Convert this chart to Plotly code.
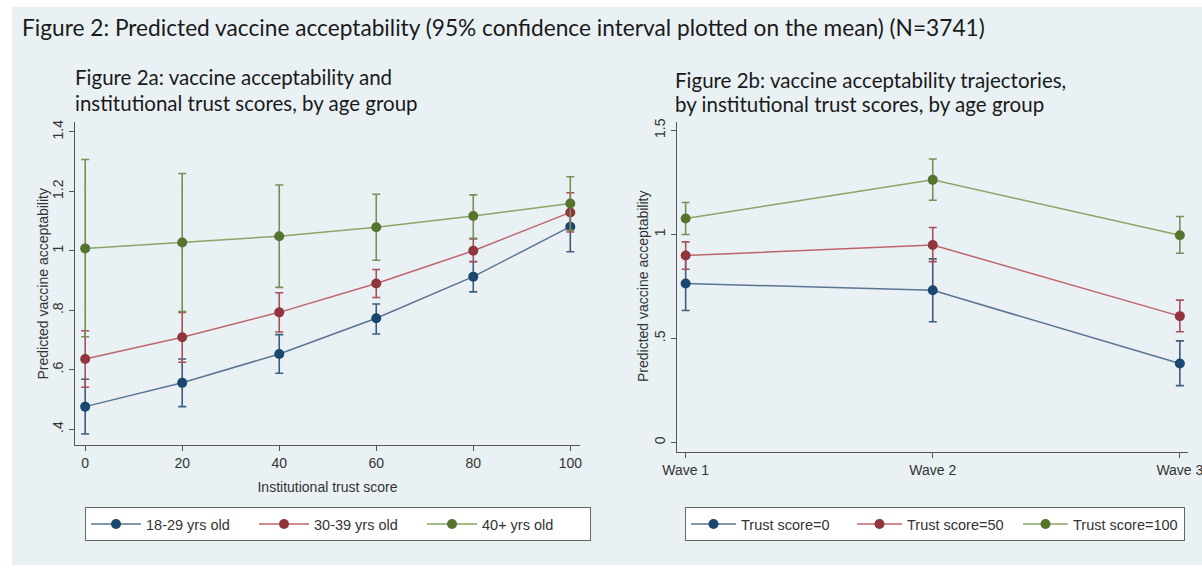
import plotly.graph_objects as go

# ---------------- data ----------------
trust_scores = [0, 20, 40, 60, 80, 100]

age_labels = ["18-29 yrs old", "30-39 yrs old", "40+ yrs old"]
age_mean = [
    [0.476, 0.556, 0.653, 0.773, 0.913, 1.081],
    [0.636, 0.709, 0.793, 0.890, 1.000, 1.129],
    [1.008, 1.028, 1.049, 1.079, 1.117, 1.159],
]
age_lower = [
    [0.384, 0.476, 0.588, 0.720, 0.862, 0.997],
    [0.541, 0.625, 0.727, 0.843, 0.963, 1.063],
    [0.711, 0.796, 0.877, 0.968, 1.042, 1.069],
]
age_upper = [
    [0.568, 0.636, 0.718, 0.821, 0.964, 1.165],
    [0.731, 0.793, 0.859, 0.937, 1.040, 1.195],
    [1.307, 1.260, 1.221, 1.190, 1.188, 1.249],
]

waves = ["Wave 1", "Wave 2", "Wave 3"]
trust_labels = ["Trust score=0", "Trust score=50", "Trust score=100"]
wave_mean = [
    [0.764, 0.731, 0.379],
    [0.898, 0.949, 0.607],
    [1.076, 1.262, 0.996],
]
wave_lower = [
    [0.634, 0.580, 0.273],
    [0.832, 0.869, 0.532],
    [0.999, 1.164, 0.909],
]
wave_upper = [
    [0.894, 0.882, 0.488],
    [0.964, 1.033, 0.684],
    [1.153, 1.362, 1.086],
]

left_yticks = [0.4, 0.6, 0.8, 1.0, 1.2, 1.4]
left_yticktext = [".4", ".6", ".8", "1", "1.2", "1.4"]
right_yticks = [0, 0.5, 1.0, 1.5]
right_yticktext = ["0", ".5", "1", "1.5"]
y_title = "Predicted vaccine acceptability"

# ---------------- style ----------------
W, H = 1202, 573
marker_colors = ["#1a476f", "#90353b", "#55752f"]
line_colors = ["#5b7491", "#c0646c", "#8ba467"]
err_colors = ["#3d5c7e", "#a8505a", "#768f55"]
bg = "#e9f1f4"
axis_font = dict(family="Liberation Sans, Arial", size=14, color="#333333")
title_axis_font = dict(family="Liberation Sans, Arial", size=14, color="#333333")
legend_font = dict(family="Liberation Sans, Arial", size=14.5, color="#333333")


def px(v):
    return v / W


def py(v):
    return 1 - v / H


fig = go.Figure()

for i in range(3):
    fig.add_trace(go.Scatter(
        x=trust_scores, y=age_mean[i], name=age_labels[i],
        mode="lines+markers",
        line=dict(color=line_colors[i], width=1.5),
        marker=dict(color=marker_colors[i], size=10),
        error_y=dict(type="data", symmetric=False,
                     array=[u - m for u, m in zip(age_upper[i], age_mean[i])],
                     arrayminus=[m - l for m, l in zip(age_mean[i], age_lower[i])],
                     color=err_colors[i], thickness=1.6, width=4),
        xaxis="x", yaxis="y", legend="legend",
    ))

for i in range(3):
    fig.add_trace(go.Scatter(
        x=waves, y=wave_mean[i], name=trust_labels[i],
        mode="lines+markers",
        line=dict(color=line_colors[i], width=1.5),
        marker=dict(color=marker_colors[i], size=10),
        error_y=dict(type="data", symmetric=False,
                     array=[u - m for u, m in zip(wave_upper[i], wave_mean[i])],
                     arrayminus=[m - l for m, l in zip(wave_mean[i], wave_lower[i])],
                     color=err_colors[i], thickness=1.6, width=4),
        xaxis="x2", yaxis="y2", legend="legend2",
    ))

common_axis = dict(showline=True, linecolor="#555555", linewidth=1.2,
                   ticks="outside", ticklen=5, tickcolor="#555555",
                   tickfont=axis_font, zeroline=False)

fig.update_layout(
    width=W, height=H,
    margin=dict(l=0, r=0, t=0, b=0, autoexpand=False),
    paper_bgcolor="white",
    plot_bgcolor="white",
    showlegend=True,
    xaxis=dict(domain=[px(75), px(580)], range=[-2.1, 102], anchor="y",
               tickvals=trust_scores, showgrid=False,
               title=dict(text="Institutional trust score", font=title_axis_font, standoff=12),
               **common_axis),
    yaxis=dict(domain=[py(445), py(122)], range=[0.347, 1.433], anchor="x",
               tickvals=left_yticks, ticktext=left_yticktext, tickangle=-90,
               showgrid=True, gridcolor="#e6eef1", gridwidth=1,
               **common_axis),
    xaxis2=dict(domain=[px(677), px(1188)], range=[-0.035, 2.033], anchor="y2",
                type="category", showgrid=False, **common_axis),
    yaxis2=dict(domain=[py(452), py(122)], range=[-0.046, 1.54], anchor="x2",
                tickvals=right_yticks, ticktext=right_yticktext, tickangle=-90,
                showgrid=True, gridcolor="#e6eef1", gridwidth=1,
                **common_axis),
    legend=dict(orientation="h", x=px(85), y=py(507), xanchor="left", yanchor="top",
                bgcolor="white", bordercolor="#666666", borderwidth=1,
                font=legend_font, itemwidth=50, entrywidth=103, entrywidthmode="pixels",
                itemclick=False),
    legend2=dict(orientation="h", x=px(685), y=py(507), xanchor="left", yanchor="top",
                 bgcolor="white", bordercolor="#666666", borderwidth=1,
                 font=legend_font, itemwidth=45, entrywidth=106, entrywidthmode="pixels",
                 itemclick=False),
    shapes=[dict(type="rect", xref="paper", yref="paper", layer="below",
                 x0=px(12), x1=1, y0=py(565), y1=py(7),
                 fillcolor=bg, line=dict(width=0))],
)

# y-axis titles placed as rotated annotations beside each axis
for yref, xpos in (("y domain", 42), ("y2 domain", 643)):
    fig.add_annotation(text=y_title, xref="paper", yref=yref, x=px(xpos), y=0.5,
                       xanchor="center", yanchor="middle", textangle=-90,
                       showarrow=False, font=title_axis_font)

title_font = dict(family="Lato, Open Sans", size=22.7, color="#1a1a1a")
sub_font = dict(family="Lato, Open Sans", size=20.5, color="#1a1a1a")
annos = [
    ("Figure 2: Predicted vaccine acceptability (95% confidence interval plotted on the mean) (N=3741)", 20, 28, title_font),
    ("Figure 2a: vaccine acceptability and", 73, 77, sub_font),
    ("institutional trust scores, by age group", 73, 103, sub_font),
    ("Figure 2b: vaccine acceptability trajectories,", 673, 80, sub_font),
    ("by institutional trust scores, by age group", 673, 104, sub_font),
]
for text, x, y, f in annos:
    fig.add_annotation(text=text, xref="paper", yref="paper", x=px(x), y=py(y),
                       xanchor="left", yanchor="middle", showarrow=False, font=f)

fig.write_html("out.html", config={"displayModeBar": False},
               post_script="document.body.style.margin='0';document.body.style.overflow='hidden';")
